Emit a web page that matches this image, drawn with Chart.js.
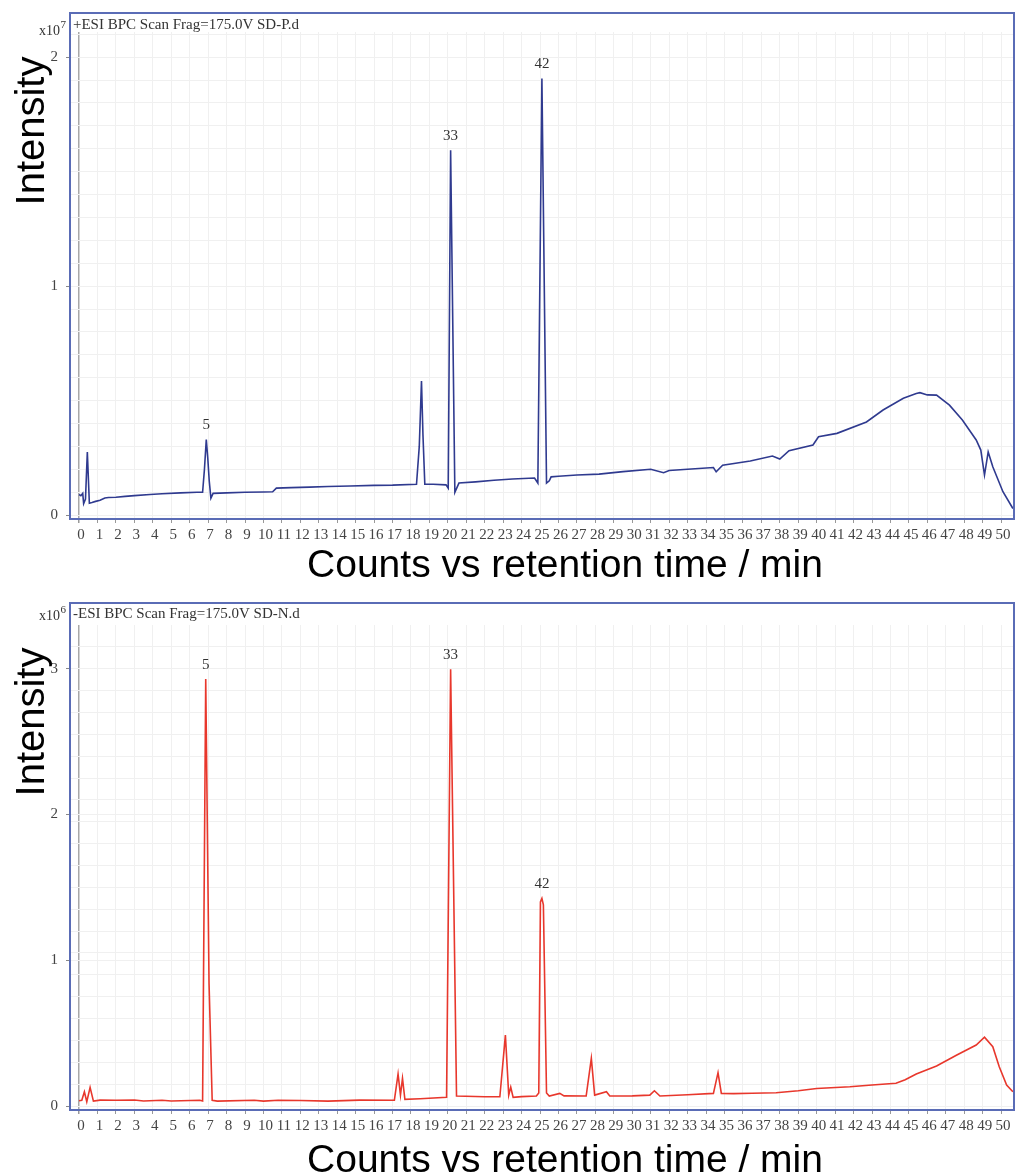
<!DOCTYPE html>
<html>
<head>
<meta charset="utf-8">
<script src="https://cdn.jsdelivr.net/npm/chart.js@4/dist/chart.umd.min.js"></script>
<style>
  html, body { margin: 0; padding: 0; background: #ffffff; }
  #wrap { position: relative; width: 1016px; height: 1175px; }
  .box { position: absolute; left: 0; width: 1016px; }
  #boxTop { top: 0; height: 590px; }
  #boxBot { top: 590px; height: 585px; }
</style>
</head>
<body>
<div id="wrap">
  <div class="box" id="boxTop"><canvas id="cTop" width="1016" height="590"></canvas></div>
  <div class="box" id="boxBot"><canvas id="cBot" width="1016" height="585"></canvas></div>
</div>
<script>
// ---------------- DATA ----------------
const xTickLabels = Array.from({length: 51}, (_, i) => String(i));   // 0 .. 50 min

// Positive mode (x10^7)
const posTime = [0.0, 0.1, 0.2, 0.25, 0.35, 0.45, 0.56, 0.7, 0.9, 1.14, 1.4, 1.6, 2.0, 2.5, 3.0, 3.85, 4.5, 5.5, 6.4, 6.7,
  6.8, 6.9, 6.98, 7.06, 7.15, 7.27, 8.0, 9.0, 10.0, 10.5, 10.7, 11.5, 12.5, 13.5, 14.7, 16.0, 17.0, 18.3, 18.45, 18.57,
  18.65, 18.75, 19.2, 19.9, 20.02, 20.15, 20.38, 20.6, 21.5, 22.5, 23.5, 24.7, 24.88, 25.1, 25.35, 25.5, 25.6, 26.0, 27.0, 28.2,
  29.5, 31.0, 31.7, 32.0, 33.0, 34.4, 34.55, 34.9, 36.4, 37.6, 38.0, 38.5, 39.8, 40.1, 41.1, 42.7, 43.6, 44.7, 45.4, 45.6,
  46.0, 46.5, 47.2, 47.9, 48.65, 48.9, 49.1, 49.3, 49.55, 50.1, 50.64];
const posIntensity = [0.09, 0.085, 0.095, 0.05, 0.07, 0.276, 0.052, 0.055, 0.06, 0.065, 0.075, 0.077, 0.078, 0.082, 0.085, 0.09, 0.093, 0.097, 0.1, 0.1,
  0.2, 0.33, 0.25, 0.15, 0.074, 0.095, 0.097, 0.1, 0.101, 0.102, 0.118, 0.12, 0.122, 0.125, 0.127, 0.13, 0.131, 0.135, 0.3, 0.586,
  0.35, 0.135, 0.135, 0.132, 0.118, 1.594, 0.10, 0.14, 0.145, 0.152, 0.158, 0.162, 0.14, 1.907, 0.14, 0.15, 0.167, 0.17, 0.175, 0.179,
  0.19, 0.2, 0.185, 0.195, 0.2, 0.208, 0.189, 0.218, 0.236, 0.258, 0.245, 0.281, 0.306, 0.342, 0.357, 0.407, 0.459, 0.51, 0.531, 0.535,
  0.525, 0.524, 0.48, 0.415, 0.328, 0.284, 0.175, 0.276, 0.211, 0.102, 0.029];
const posPeakLabels = ["5", "33", "42"];
const posPeakTime = [6.9, 20.15, 25.1];
const posPeakIntensity = [0.33, 1.594, 1.907];
const posYTicks = Array.from({length: 22}, (_, i) => Math.round(i * 10) / 100);  // 0 .. 2.1 step 0.1

// Negative mode (x10^6)
const negTime = [0.0, 0.15, 0.29, 0.42, 0.6, 0.78, 1.14, 2.0, 3.0, 3.5, 4.5, 5.0, 6.55, 6.7, 6.87, 7.05, 7.22, 7.5, 9.5, 10.0,
  10.8, 12.0, 13.5, 15.2, 17.1, 17.3, 17.43, 17.54, 17.67, 18.5, 19.93, 20.15, 20.24, 20.47, 22.0, 22.82, 23.12, 23.3, 23.41, 23.54,
  24.0, 24.8, 24.93, 25.02, 25.1, 25.18, 25.35, 25.5, 26.07, 26.3, 27.5, 27.78, 27.96, 28.6, 28.78, 30.0, 30.95, 31.2, 31.5, 33.0,
  34.4, 34.65, 34.83, 35.5, 36.5, 37.8, 39.0, 40.0, 41.8, 43.0, 44.3, 44.8, 45.4, 46.5, 47.6, 48.65, 49.1, 49.55, 49.9, 50.3, 50.64];
const negIntensity = [0.036, 0.04, 0.098, 0.03, 0.128, 0.034, 0.041, 0.04, 0.042, 0.035, 0.04, 0.035, 0.04, 0.035, 2.93, 0.84, 0.04, 0.034, 0.04, 0.034,
  0.04, 0.038, 0.034, 0.041, 0.04, 0.22, 0.075, 0.19, 0.046, 0.05, 0.06, 2.997, 2.17, 0.069, 0.064, 0.064, 0.487, 0.075, 0.13, 0.06,
  0.065, 0.069, 0.09, 1.40, 1.425, 1.38, 0.09, 0.069, 0.087, 0.07, 0.069, 0.327, 0.075, 0.098, 0.069, 0.07, 0.075, 0.105, 0.069, 0.078,
  0.087, 0.229, 0.087, 0.085, 0.088, 0.091, 0.105, 0.121, 0.133, 0.145, 0.156, 0.18, 0.22, 0.275, 0.35, 0.419, 0.472, 0.407, 0.27, 0.144, 0.098];
const negPeakLabels = ["5", "33", "42"];
const negPeakTime = [6.87, 20.15, 25.1];
const negPeakIntensity = [2.93, 2.997, 1.425];
const negYTicks = Array.from({length: 22}, (_, i) => Math.round(i * 15) / 100).concat([1, 2]).sort((a, b) => a - b);

// ---------------- STYLE ----------------
const SERIF = '"Liberation Serif", "Times New Roman", serif';
const SANS = '"Liberation Sans", Arial, sans-serif';
const FRAME = '#5a6cb6';
const GRID = '#f0f0f0';

const decoPlugin = {
  id: 'deco',
  beforeDraw(chart) {
    const ctx = chart.ctx;
    ctx.save();
    ctx.fillStyle = '#ffffff';
    ctx.fillRect(0, 0, chart.width, chart.height);
    ctx.restore();
  },
  afterDraw(chart, args, o) {
    const ctx = chart.ctx, a = chart.chartArea;
    const xs = chart.scales.x, ys = chart.scales.y;
    ctx.save();
    // frame
    ctx.strokeStyle = FRAME; ctx.lineWidth = 2;
    ctx.strokeRect(a.left, o.frameTop, a.right - a.left, a.bottom - o.frameTop);
    // header
    ctx.fillStyle = '#333'; ctx.font = '15px ' + SERIF;
    ctx.textAlign = 'left'; ctx.textBaseline = 'middle';
    ctx.fillText(o.header, a.left + 3, o.headerY);
    // multiplier x10^n
    ctx.textAlign = 'right'; ctx.textBaseline = 'alphabetic';
    ctx.font = '14px ' + SERIF;
    ctx.fillText('x10', 60, o.multY);
    ctx.textAlign = 'left'; ctx.font = '11px ' + SERIF;
    ctx.fillText(o.exp, 60.5, o.multY - 7);
    // peak labels
    ctx.font = '15px ' + SERIF; ctx.textAlign = 'center'; ctx.textBaseline = 'middle';
    o.peakLabels.forEach((t, i) => {
      ctx.fillText(t, xs.getPixelForValue(o.peakTime[i]), ys.getPixelForValue(o.peakVal[i]) - 14);
    });
    // axis titles
    ctx.fillStyle = '#000';
    ctx.font = '39px ' + SANS; ctx.textAlign = 'center'; ctx.textBaseline = 'alphabetic';
    ctx.fillText('Counts vs retention time / min', 565, o.xTitleY);
    ctx.translate(44, o.yTitleY);
    ctx.rotate(-Math.PI / 2);
    ctx.font = '40px ' + SANS;
    ctx.fillText('Intensity', 0, 0);
    ctx.restore();
  }
};

function makeChart(id, times, vals, color, yMin, yMax, yTicks, axisH, padTop, deco) {
  return new Chart(document.getElementById(id), {
    type: 'line',
    data: {
      datasets: [{
        data: times.map((t, i) => ({x: t, y: vals[i]})),
        borderColor: color, borderWidth: 1.6, pointRadius: 0, tension: 0, fill: false
      }]
    },
    options: {
      responsive: false, animation: false, events: [],
      layout: {padding: {top: padTop, right: 2, left: 0, bottom: 0}},
      plugins: {legend: {display: false}, tooltip: {enabled: false}, deco: deco},
      scales: {
        x: {
          type: 'linear', min: -0.49, max: 50.7,
          afterBuildTicks: s => { s.ticks = xTickLabels.map(v => ({value: Number(v)})); },
          afterFit: s => { s.height = axisH; },
          grid: {
            color: c => (c.tick && c.tick.value === 0) ? '#a8a8a8' : GRID,
            lineWidth: c => (c.tick && c.tick.value === 0) ? 1.5 : 1,
            tickColor: '#999', tickLength: 4, drawTicks: true
          },
          border: {display: false},
          ticks: {
            autoSkip: false, maxRotation: 0, minRotation: 0, padding: 3, labelOffset: 2,
            color: '#444', font: {family: SERIF, size: 15},
            callback: v => String(v)
          }
        },
        y: {
          type: 'linear', min: yMin, max: yMax,
          afterBuildTicks: s => { s.ticks = yTicks.map(v => ({value: v})); },
          afterFit: s => { s.width = 70; },
          grid: {
            color: GRID, lineWidth: 1,
            tickColor: c => (c.tick && Math.abs(c.tick.value - Math.round(c.tick.value)) < 1e-9) ? '#888' : 'rgba(0,0,0,0)',
            tickLength: 4
          },
          border: {display: false},
          ticks: {
            autoSkip: false, padding: 8, color: '#444', font: {family: SERIF, size: 15},
            callback: v => (Math.abs(v - Math.round(v)) < 1e-9) ? String(Math.round(v)) : ''
          }
        }
      }
    },
    plugins: [decoPlugin]
  });
}

makeChart('cTop', posTime, posIntensity, '#2f3a8f', -0.017, 2.11, posYTicks, 71, 32, {
  frameTop: 13, header: '+ESI BPC Scan Frag=175.0V SD-P.d', headerY: 25, multY: 35, exp: '7',
  peakLabels: posPeakLabels, peakTime: posPeakTime, peakVal: posPeakIntensity,
  xTitleY: 577, yTitleY: 131
});
makeChart('cBot', negTime, negIntensity, '#e8372c', -0.027, 3.30, negYTicks, 65, 35, {
  frameTop: 13, header: '-ESI BPC Scan Frag=175.0V SD-N.d', headerY: 24, multY: 30, exp: '6',
  peakLabels: negPeakLabels, peakTime: negPeakTime, peakVal: negPeakIntensity,
  xTitleY: 582, yTitleY: 132
});
</script>
</body>
</html>
